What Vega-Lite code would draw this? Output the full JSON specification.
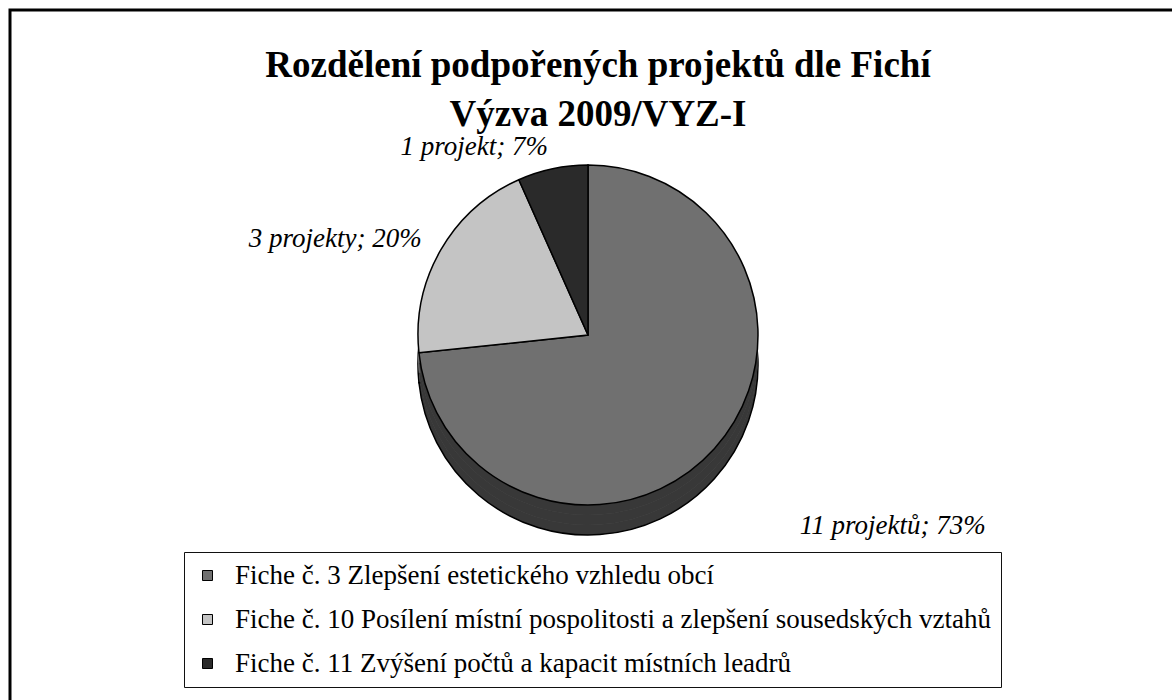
{
  "$schema": "https://vega.github.io/schema/vega-lite/v6.json",
  "width": 1200,
  "height": 720,
  "autosize": {"type": "none"},
  "padding": {"left": 10, "top": 10, "right": 0, "bottom": 0},
  "background": "white",
  "view": {"stroke": "black", "strokeWidth": 3},
  "config": {
    "view": {"stroke": "black", "strokeWidth": 3},
    "font": "Liberation Serif",
    "legend": {
      "orient": "none", "legendX": 174, "legendY": 542, "direction": "vertical",
      "symbolType": "square", "symbolSize": 100, "symbolStrokeColor": "black", "symbolStrokeWidth": 1,
      "labelFont": "Liberation Serif", "labelFontSize": 27, "labelColor": "black", "labelLimit": 1000,
      "labelOffset": 14, "rowPadding": 16, "padding": 10, "strokeColor": "#111111", "fillColor": "white", "cornerRadius": 0
    }
  },
  "title": {
    "text": ["Rozdělení podpořených projektů dle Fichí", "Výzva 2009/VYZ-I"],
    "font": "Liberation Serif",
    "fontSize": 37,
    "fontWeight": "bold",
    "lineHeight": 49,
    "anchor": "middle",
    "color": "black",
    "offset": -124,
    "dx": -12
  },
  "data": {
    "values": [
      {"fiche": "Fiche č. 3 Zlepšení estetického vzhledu obcí", "n": 11, "label": "11 projektů; 73%"},
      {"fiche": "Fiche č. 10 Posílení místní pospolitosti a zlepšení sousedských vztahů", "n": 3, "label": "3 projekty; 20%"},
      {"fiche": "Fiche č. 11 Zvýšení počtů a kapacit místních leadrů", "n": 1, "label": "1 projekt; 7%"}
    ]
  },
  "encoding": {
    "theta": {"field": "n", "type": "quantitative", "stack": true},
    "order": {"field": "n", "type": "quantitative", "sort": "descending"}
  },
  "layer": [
    {
      "mark": {"type": "arc", "outerRadius": 170, "xOffset": -22, "yOffset": -5, "strokeWidth": 0},
      "encoding": {"color": {"field": "fiche", "type": "nominal", "legend": {"title": null, "symbolType": "square"}}}
    },
    {
      "mark": {"type": "arc", "outerRadius": 170, "xOffset": -22, "yOffset": -5, "fill": "black", "fillOpacity": 0.5, "stroke": "black", "strokeWidth": 1.5}
    },
    {
      "mark": {"type": "arc", "outerRadius": 170, "xOffset": -22, "yOffset": -15, "strokeWidth": 0},
      "encoding": {"color": {"field": "fiche", "type": "nominal", "legend": {"title": null, "symbolType": "square"}}}
    },
    {
      "mark": {"type": "arc", "outerRadius": 170, "xOffset": -22, "yOffset": -15, "fill": "black", "fillOpacity": 0.5, "strokeWidth": 0}
    },
    {
      "mark": {"type": "arc", "outerRadius": 170, "xOffset": -22, "yOffset": -25, "strokeWidth": 0},
      "encoding": {"color": {"field": "fiche", "type": "nominal", "legend": {"title": null, "symbolType": "square"}}}
    },
    {
      "mark": {"type": "arc", "outerRadius": 170, "xOffset": -22, "yOffset": -25, "fill": "black", "fillOpacity": 0.5, "strokeWidth": 0}
    },
    {
      "mark": {"type": "arc", "outerRadius": 170, "xOffset": -22, "yOffset": -35, "stroke": "black", "strokeWidth": 1.5},
      "encoding": {
        "color": {"field": "fiche", "type": "nominal",
          "scale": {"domain": ["Fiche č. 3 Zlepšení estetického vzhledu obcí", "Fiche č. 10 Posílení místní pospolitosti a zlepšení sousedských vztahů", "Fiche č. 11 Zvýšení počtů a kapacit místních leadrů"],
                    "range": ["#707070", "#c4c4c4", "#2a2a2a"]},
          "legend": {"title": null, "symbolType": "square"}
        }
      }
    },
    {
      "mark": {"type": "text", "radius": 285, "xOffset": -22, "yOffset": -35, "align": "left", "baseline": "middle", "font": "Liberation Serif", "fontStyle": "italic", "fontSize": 27, "color": "black"},
      "encoding": {
        "text": {"field": "label", "type": "nominal"},
        "opacity": {"condition": {"test": "datum.n == 11", "value": 1}, "value": 0}
      }
    },
    {
      "mark": {"type": "text", "radius": 192, "xOffset": -22, "yOffset": -35, "align": "right", "baseline": "middle", "font": "Liberation Serif", "fontStyle": "italic", "fontSize": 27, "color": "black"},
      "encoding": {
        "text": {"field": "label", "type": "nominal"},
        "opacity": {"condition": {"test": "datum.n != 11", "value": 1}, "value": 0}
      }
    }
  ]
}
